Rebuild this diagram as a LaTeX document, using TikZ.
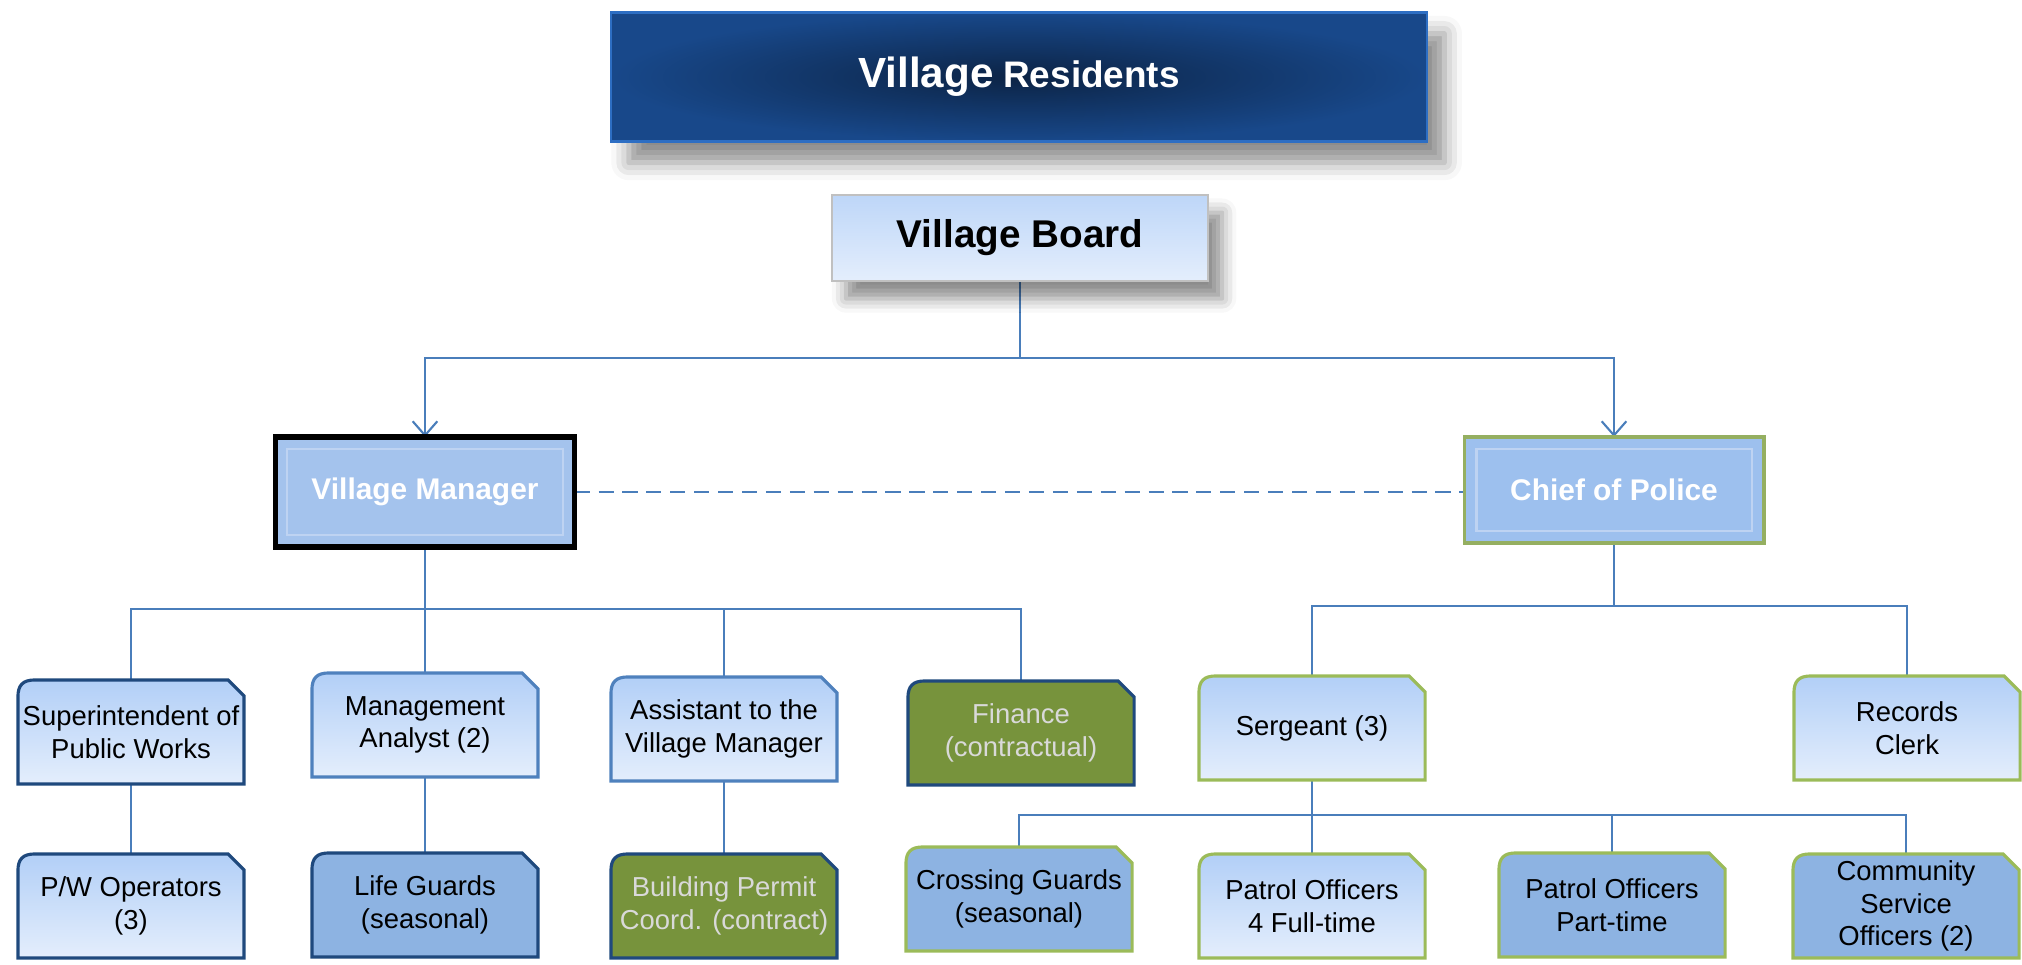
\documentclass[tikz,border=0pt]{standalone}
\usepackage{fontspec}
\setmainfont{Liberation Sans}
\usetikzlibrary{arrows.meta,shadows.blur,backgrounds}
\definecolor{navyline}{RGB}{31,73,125}
\definecolor{midline}{RGB}{79,129,189}
\definecolor{oliveline}{RGB}{155,187,89}
\definecolor{paletop}{RGB}{178,207,247}
\definecolor{palebottom}{RGB}{228,238,252}
\definecolor{cardblue}{RGB}{141,179,226}
\definecolor{cardgreen}{RGB}{119,147,60}
\definecolor{linkblue}{RGB}{74,126,187}
\definecolor{fadedtext}{RGB}{217,217,217}
\definecolor{resdark}{RGB}{12,36,70}
\definecolor{resedge}{RGB}{24,72,138}
\definecolor{resrim}{RGB}{45,110,195}
\definecolor{boardline}{RGB}{192,192,192}
\definecolor{headfill}{RGB}{164,195,237}
\definecolor{chieffill}{RGB}{157,192,238}
\definecolor{bevel}{RGB}{190,211,242}
\def\tabbox[#1](#2){\draw[#1] (#2.south west) -- ([yshift=-1.7mm]#2.north west) .. controls ([yshift=-0.5mm]#2.north west) and ([xshift=0.5mm]#2.north west) .. ([xshift=1.7mm]#2.north west) -- ([xshift=-1.6mm]#2.north east) -- ([yshift=-1.6mm]#2.north east) -- (#2.south east) -- cycle;}
\tikzset{
	card/.style={minimum width=2.26cm, minimum height=1.04cm, inner sep=0pt, outer sep=0pt, align=center, font=\fontsize{7.8}{9.3}\selectfont},
	pale/.style={line width=0.9pt, top color=paletop, bottom color=palebottom},
	paledark/.style={pale, draw=navyline},
	palemid/.style={pale, draw=midline},
	paleolive/.style={pale, draw=oliveline},
	bluedark/.style={line width=0.9pt, fill=cardblue, draw=navyline},
	blueolive/.style={line width=0.9pt, fill=cardblue, draw=oliveline},
	greendark/.style={line width=0.9pt, fill=cardgreen, draw=navyline},
	headbox/.style={minimum width=2.99cm, minimum height=1.10cm, inner sep=0pt, outer sep=0pt, text=white, font=\fontsize{8.5}{10}\selectfont\bfseries},
	link/.style={draw=linkblue, line width=0.6pt},
	linkarrow/.style={link, -{Straight Barb[length=4pt,width=7pt]}}
}
\begin{document}
\begin{tikzpicture}[x=0.01cm, y=-0.01cm]
	\useasboundingbox (0,0) rectangle (2022,965);
	
	\node[minimum width=8.15cm, minimum height=1.29cm, inner sep=0pt, draw=resrim, line width=0.6pt, inner color=resdark, outer color=resedge, text=white, font=\bfseries, blur shadow={shadow xshift=5pt, shadow yshift=-6pt, shadow blur radius=5pt, shadow opacity=45}] (res) at (1019,77) {{\fontsize{12}{14}\selectfont Village} {\fontsize{10.5}{14}\selectfont Residents}};
	\node[minimum width=3.76cm, minimum height=0.86cm, inner sep=0pt, draw=boardline, line width=0.6pt, top color=paletop!85!white, bottom color=palebottom, font=\fontsize{11}{13}\selectfont\bfseries, blur shadow={shadow xshift=4pt, shadow yshift=-5pt, shadow blur radius=4pt, shadow opacity=45}] (board) at (1020,238) {Village Board};
	
	\node[headbox, fill=headfill, draw=black, line width=1.6pt] (mgr) at (425,492) {Village Manager};
	\node[headbox, fill=chieffill, draw=oliveline!80!gray, line width=1.1pt, minimum height=1.06cm] (chief) at (1614,490) {Chief of Police};
	\draw[bevel, line width=0.6pt] ([shift={(1.2mm,-1.2mm)}]mgr.north west) rectangle ([shift={(-1.2mm,1.2mm)}]mgr.south east);
	\draw[bevel, line width=0.6pt] ([shift={(1.2mm,-1.2mm)}]chief.north west) rectangle ([shift={(-1.2mm,1.2mm)}]chief.south east);
	
	% village manager side
	\node[card] (super) at (131,732) {Superintendent of\\Public Works};
	\node[card] (analyst) at (425,725) {Management\\Analyst (2)};
	\node[card] (assist) at (724,729) {Assistant to the\\Village Manager};
	\node[card, text=fadedtext] (finance) at (1021,733) {Finance\\(contractual)};
	\node[card] (pwops) at (131,906) {P/W Operators\\(3)};
	\node[card] (guards) at (425,905) {Life Guards\\(seasonal)};
	\node[card, text=fadedtext] (permit) at (724,906) {Building Permit\\Coord. (contract)};
	
	% police side
	\node[card] (sarge) at (1312,728) {Sergeant (3)};
	\node[card] (records) at (1907,728) {Records\\Clerk};
	\node[card] (crossing) at (1019,899) {Crossing Guards\\(seasonal)};
	\node[card] (fulltime) at (1312,906) {Patrol Officers\\4 Full-time};
	\node[card] (parttime) at (1612,905) {Patrol Officers\\Part-time};
	\node[card] (service) at (1906,906) {Community\\Service\\Officers (2)};
	
	\coordinate (topbus) at (1020,358);
	\coordinate (mgrbus) at (425,609);
	\coordinate (chiefbus) at (1614,606);
	\coordinate (sargebus) at (1312,815);
	
	\begin{scope}[on background layer]
		\draw[link] (board.south) -- (topbus);
		\draw[linkarrow] (topbus) -| (mgr.north);
		\draw[linkarrow] (topbus) -| (chief.north);
		\draw[link, dash pattern=on 4.3pt off 2.5pt] (mgr.east) -- (mgr.east -| chief.west);
		
		\draw[link] (mgr.south) -- (mgrbus);
		\draw[link] (super.north) |- (mgrbus) -| (finance.north);
		\draw[link] (mgrbus) -- (analyst.north);
		\draw[link] (mgrbus) -| (assist.north);
		\draw[link] (super) -- (pwops);
		\draw[link] (analyst) -- (guards);
		\draw[link] (assist) -- (permit);
		
		\draw[link] (chief.south) -- (chiefbus);
		\draw[link] (sarge.north) |- (chiefbus) -| (records.north);
		\draw[link] (sarge.south) -- (sargebus);
		\draw[link] (crossing.north) |- (sargebus) -| (service.north);
		\draw[link] (sargebus) -- (fulltime.north);
		\draw[link] (sargebus) -| (parttime.north);
		
		\foreach \n/\s in {super/paledark, analyst/palemid, assist/palemid, finance/greendark, pwops/paledark, guards/bluedark, permit/greendark, sarge/paleolive, records/paleolive, crossing/blueolive, fulltime/paleolive, parttime/blueolive, service/blueolive}
			\tabbox[\s](\n);
	\end{scope}
\end{tikzpicture}
\end{document}
